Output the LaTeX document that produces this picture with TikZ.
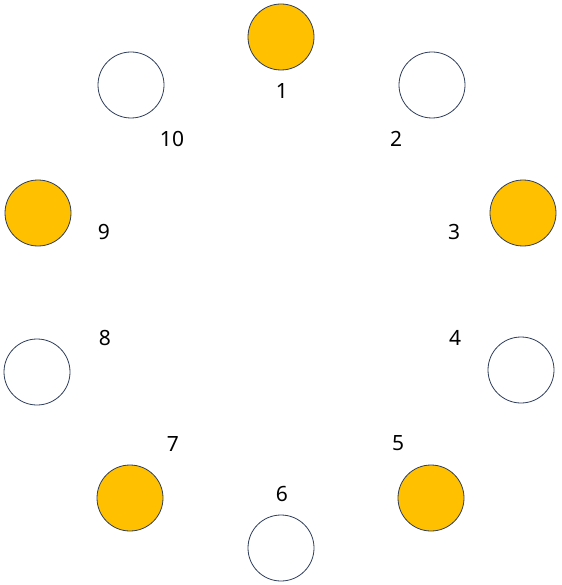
\documentclass[tikz,border=0pt]{standalone}
\usepackage{fontspec}
\setmainfont{Noto Sans}
\usepackage{tikz}
\definecolor{ringgold}{RGB}{255,192,0}
\definecolor{ringedge}{RGB}{47,62,92}
\tikzset{
  seat/.style={circle,draw=ringedge,line width=0.8pt,minimum size=66pt,inner sep=0pt},
  full/.style={seat,fill=ringgold},
  empty/.style={seat,fill=white},
  num/.style={font=\fontsize{21}{24}\selectfont,inner sep=0pt}
}
\begin{document}
\begin{tikzpicture}[x=1pt,y=-1pt]
\useasboundingbox (0,0) rectangle (561,585);
\node[full] (c1) at (281,37) {};
\node[empty] (c2) at (432,85) {};
\node[full] (c3) at (523,213) {};
\node[empty] (c4) at (521,370) {};
\node[full] (c5) at (431,498) {};
\node[empty] (c6) at (281,548) {};
\node[full] (c7) at (130,498) {};
\node[empty] (c8) at (37,372) {};
\node[full] (c9) at (38,213) {};
\node[empty] (c10) at (131,85) {};
\node[num] (l1) at (282,91) {1};
\node[num] (l2) at (396,139) {2};
\node[num] (l3) at (454,232) {3};
\node[num] (l4) at (455,338) {4};
\node[num] (l5) at (398,443) {5};
\node[num] (l6) at (282,494) {6};
\node[num] (l7) at (173,444) {7};
\node[num] (l8) at (105,338) {8};
\node[num] (l9) at (104,232) {9};
\node[num] (l10) at (172,139) {10};
\end{tikzpicture}
\end{document}
